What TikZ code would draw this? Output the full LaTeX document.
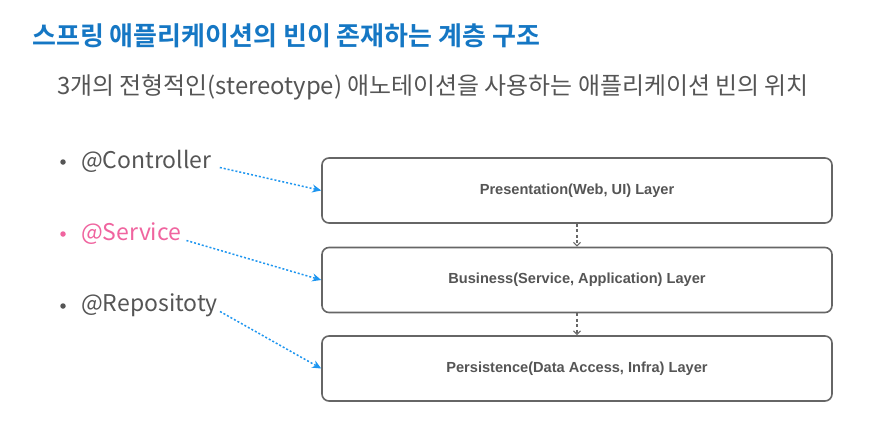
\documentclass[tikz,border=0pt]{standalone}
\usepackage{fontspec}
\setmainfont{Liberation Sans}
\newfontfamily\kr{Noto Sans CJK KR}
\newfontfamily\krb{Noto Sans CJK KR Bold}
\newfontfamily\boxfont{Liberation Sans}
\usetikzlibrary{arrows.meta,calc}
\definecolor{titleblue}{HTML}{1577C4}
\definecolor{txtgray}{HTML}{555555}
\definecolor{pinktxt}{HTML}{F0649F}
\definecolor{arrowblue}{HTML}{1E96F0}
\definecolor{boxgray}{HTML}{666666}
\tikzset{
  layerbox/.style={draw=boxgray, line width=1.6pt, rounded corners=7pt, minimum width=510pt, minimum height=65pt, inner sep=0pt, font=\boxfont\bfseries\fontsize{14.6}{17}\selectfont, text=txtgray},
  bullettext/.style={anchor=west, inner sep=0pt, font=\kr\fontsize{23}{27}\selectfont},
  bulletdot/.style={circle, fill, inner sep=0pt, minimum size=5.5pt},
  annarrow/.style={draw=arrowblue, line width=1.5pt, dash pattern=on 2pt off 2pt, -{Stealth[length=9pt,width=8pt,fill=arrowblue]}},
  flowarrow/.style={draw=boxgray, line width=1.2pt, dash pattern=on 3pt off 2.5pt, -{Straight Barb[length=3.5pt,width=7pt]}}
}
\begin{document}
\begin{tikzpicture}[x=1pt,y=-1pt]
\useasboundingbox[fill=white] (0,0) rectangle (891,426);
\node[anchor=west, inner sep=0pt, text=titleblue, font=\krb\fontsize{26}{30}\selectfont] (title) at (32,36) {스프링 애플리케이션의 빈이 존재하는 계층 구조};
\node[anchor=west, inner sep=0pt, text=txtgray, font=\kr\fontsize{23.9}{28}\selectfont] (subtitle) at (57,87) {3개의 전형적인(stereotype) 애노테이션을 사용하는 애플리케이션 빈의 위치};

\node[bulletdot, fill=txtgray] (d1) at (63,162) {};
\node[bulletdot, fill=pinktxt] (d2) at (63,234) {};
\node[bulletdot, fill=txtgray] (d3) at (63,306) {};
\node[bullettext, text=txtgray] (ctrl) at (81,161.5) {@Controller};
\node[bullettext, text=pinktxt] (svc) at (81,233.5) {@Service};
\node[bullettext, text=txtgray] (repo) at (81,305.5) {@Repositoty};

\node[layerbox] (pres) at (577,190.5) {Presentation(Web, UI) Layer};
\node[layerbox] (bus) at (577,280) {Business(Service, Application) Layer};
\node[layerbox] (pers) at (577,368.5) {Persistence(Data Access, Infra) Layer};

\draw[annarrow] ($(ctrl.east)+(8,6)$) -- (pres.west);
\draw[annarrow] ($(svc.east)+(5,7)$) -- (bus.west);
\draw[annarrow] ($(repo.east)+(2,6)$) -- (pers.west);

\draw[flowarrow] (pres.south) -- (bus.north);
\draw[flowarrow] (bus.south) -- (pers.north);
\end{tikzpicture}
\end{document}
